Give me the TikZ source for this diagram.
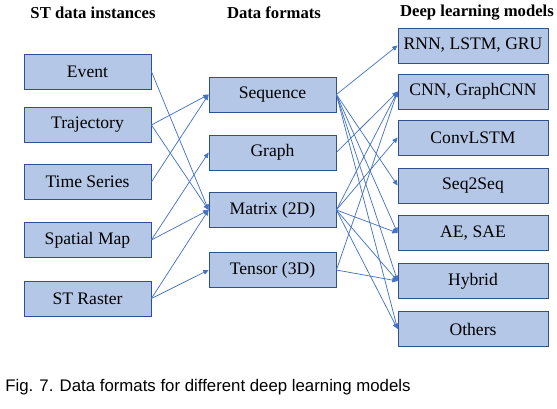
\documentclass[tikz,border=0pt]{standalone}
\usepackage{fontspec}
\setmainfont{Liberation Serif}
\newfontfamily\captionfont{Liberation Sans}
\usepackage{tikz}
\usetikzlibrary{arrows.meta}

\definecolor{boxfill}{HTML}{B4C7E7}
\definecolor{boxline}{HTML}{2F528F}
\definecolor{linkblue}{HTML}{4472C4}

\tikzset{
	stbox/.style = {draw = boxline, fill = boxfill, line width = 0.6pt, minimum width = 95.25pt, minimum height = 26.25pt, inner sep = 0pt, font = \fontsize{13.2}{15}\selectfont},
	dlbox/.style = {stbox, minimum width = 112.5pt},
	header/.style = {font = \fontsize{12.5}{15}\selectfont\bfseries},
	link/.style = {draw = linkblue, line width = 0.55pt, -{Triangle[length = 4pt, width = 3.5pt]}}
}

\begin{document}
\begin{tikzpicture}[x = 0.75pt, y = -0.75pt]

	% frame of the picture, in pixels
	\useasboundingbox (0,0) rectangle (557,408);

	% column headers
	\def \headerY {13};
	\node [header] (headST) at (93, \headerY) {ST data instances};
	\node [header] (headFormat) at (274, \headerY) {Data formats};
	\node [header] (headModel) at (477, \headerY) {Deep learning models};

	% ST data instances
	\def \colST {87.5};
	\node [stbox] (event) at (\colST, 71.5) {Event};
	\node [stbox] (trajectory) at (\colST, 125) {Trajectory};
	\node [stbox] (timeSeries) at (\colST, 182) {Time Series};
	\node [stbox] (spatialMap) at (\colST, 240) {Spatial Map};
	\node [stbox] (stRaster) at (\colST, 298.5) {ST Raster};

	% data formats
	\def \colFormat {272.5};
	\node [stbox] (sequence) at (\colFormat, 94.5) {Sequence};
	\node [stbox] (graph) at (\colFormat, 152.5) {Graph};
	\node [stbox] (matrix) at (\colFormat, 210) {Matrix (2D)};
	\node [stbox] (tensor) at (\colFormat, 270) {Tensor (3D)};

	% deep learning models
	\def \colModel {473};
	\node [dlbox] (rnn) at (\colModel, 45.5) {RNN, LSTM, GRU};
	\node [dlbox] (cnn) at (\colModel, 91.5) {CNN, GraphCNN};
	\node [dlbox] (convLSTM) at (\colModel, 137.5) {ConvLSTM};
	\node [dlbox] (seqSeq) at (\colModel, 185.5) {Seq2Seq};
	\node [dlbox] (autoEnc) at (\colModel, 233) {AE, SAE};
	\node [dlbox] (hybrid) at (\colModel, 281) {Hybrid};
	\node [dlbox] (others) at (\colModel, 329) {Others};

	% instances to formats
	\draw [link] (event.east) -- (matrix.west);
	\draw [link] (trajectory.east) -- (sequence.west);
	\draw [link] (trajectory.east) -- (matrix.west);
	\draw [link] (timeSeries.east) -- (sequence.west);
	\draw [link] (spatialMap.east) -- (graph.west);
	\draw [link] (spatialMap.east) -- (matrix.west);
	\draw [link] (stRaster.east) -- (matrix.west);
	\draw [link] (stRaster.east) -- (tensor.west);

	% formats to models
	\foreach \model in {rnn, seqSeq, autoEnc, hybrid, others}
		\draw [link] (sequence.east) -- (\model.west);
	\draw [link] (graph.east) -- (cnn.west);
	\foreach \model in {cnn, convLSTM, autoEnc, hybrid, others}
		\draw [link] (matrix.east) -- (\model.west);
	\draw [link] (tensor.east) -- (cnn.west);
	\draw [link] (tensor.east) -- (hybrid.west);

	% caption
	\node [anchor = base west, inner sep = 0pt, font = \captionfont\fontsize{12.6}{14}\selectfont] (caption) at (5, 391) {Fig. 7. Data formats for different deep learning models};

\end{tikzpicture}
\end{document}
